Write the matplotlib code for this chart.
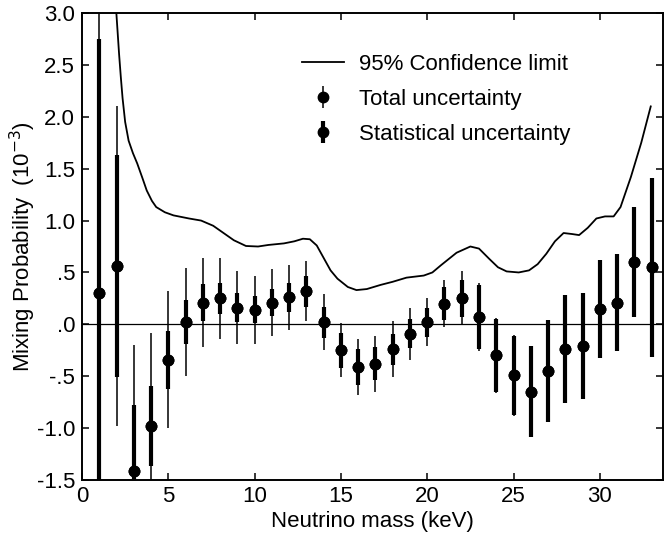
import matplotlib
matplotlib.use('Agg')
import matplotlib.pyplot as plt
from matplotlib.ticker import FixedLocator, FixedFormatter

plt.rcParams['font.family'] = ['Liberation Sans', 'DejaVu Sans']

# neutrino mass bins (keV) and fitted mixing probability (10^-3)
mass = list(range(1, 34))
value = [0.30, 0.56, -1.41, -0.98, -0.34, 0.02, 0.21, 0.25, 0.16, 0.14, 0.21,
         0.26, 0.32, 0.02, -0.25, -0.41, -0.38, -0.24, -0.09, 0.02, 0.20, 0.25,
         0.07, -0.30, -0.49, -0.65, -0.45, -0.24, -0.21, 0.15, 0.21, 0.60, 0.55]
stat_err = [2.45, 1.07, 0.63, 0.39, 0.28, 0.21, 0.18, 0.15, 0.14, 0.13, 0.13,
            0.14, 0.15, 0.15, 0.17, 0.17, 0.16, 0.15, 0.14, 0.14, 0.16, 0.18,
            0.31, 0.35, 0.38, 0.44, 0.49, 0.52, 0.51, 0.47, 0.47, 0.53, 0.86]
total_err = [3.0, 1.54, 1.21, 0.90, 0.66, 0.52, 0.43, 0.39, 0.35, 0.33, 0.32,
             0.31, 0.29, 0.27, 0.26, 0.27, 0.27, 0.27, 0.25, 0.23, 0.23, 0.26,
             0.33, 0.36, 0.39, 0.44, 0.49, 0.52, 0.51, 0.47, 0.47, 0.53, 0.86]

# 95% confidence limit curve
cl_x = [1.95, 2.05, 2.15, 2.25, 2.35, 2.5, 2.7, 2.95, 3.2, 3.5, 3.75, 4.05, 4.3,
        4.8, 5.3, 6.2, 6.9, 7.6, 8.2, 8.8, 9.5, 10.2, 10.8, 11.7, 12.3, 12.8,
        13.2, 13.6, 14.0, 14.4, 14.8, 15.4, 15.9, 16.5, 17.3, 18.0, 18.8, 19.8,
        20.3, 20.8, 21.7, 22.5, 23.0, 23.6, 24.1, 24.6, 25.3, 25.9, 26.4, 26.9,
        27.4, 27.9, 28.4, 28.8, 29.3, 29.8, 30.3, 30.8, 31.2, 31.8, 32.4, 32.95]
cl_y = [3.1, 2.85, 2.6, 2.38, 2.18, 1.95, 1.77, 1.65, 1.55, 1.41, 1.29, 1.19,
        1.13, 1.08, 1.05, 1.02, 1.0, 0.95, 0.88, 0.81, 0.755, 0.75, 0.765, 0.78,
        0.80, 0.825, 0.82, 0.76, 0.64, 0.52, 0.44, 0.36, 0.33, 0.34, 0.38, 0.41,
        0.45, 0.47, 0.50, 0.57, 0.69, 0.75, 0.73, 0.63, 0.55, 0.51, 0.50, 0.52,
        0.58, 0.68, 0.80, 0.88, 0.87, 0.86, 0.93, 1.02, 1.04, 1.04, 1.13, 1.42,
        1.75, 2.1]

yticks = [3.0, 2.5, 2.0, 1.5, 1.0, 0.5, 0.0, -0.5, -1.0, -1.5]
ytick_labels = ['3.0', '2.5', '2.0', '1.5', '1.0', '.5', '.0', '-.5', '-1.0', '-1.5']
xticks = [0, 5, 10, 15, 20, 25, 30]

fig = plt.figure(figsize=(6.64, 5.36), dpi=100)
ax = fig.add_axes([0.1235, 0.1045, 0.8755, 0.8712])

ax.axhline(0, color='k', lw=0.9, zorder=1)
tot = ax.errorbar(mass, value, yerr=total_err, fmt='o', color='k', ms=7.5,
                  elinewidth=1.1, capsize=0, label='Total uncertainty', zorder=2)
st = ax.errorbar(mass, value, yerr=stat_err, fmt='o', color='k', ms=7.5,
                 elinewidth=3.0, capsize=0, label='Statistical uncertainty', zorder=3)
cl, = ax.plot(cl_x, cl_y, color='k', lw=1.3, label='95% Confidence limit', zorder=4)

ax.set_xlim(0, 33.68)
ax.set_ylim(-1.5, 3.0)
ax.xaxis.set_major_locator(FixedLocator(xticks))
ax.yaxis.set_major_locator(FixedLocator(yticks))
ax.yaxis.set_major_formatter(FixedFormatter(ytick_labels))
ax.tick_params(direction='in', length=5, width=1.1, top=True, right=True,
               labelsize=16)
ax.tick_params(axis='x', pad=4)
ax.tick_params(axis='y', pad=5)
for s in ax.spines.values():
    s.set_linewidth(1.4)

ax.set_xlabel('Neutrino mass (keV)', fontsize=16, labelpad=3)
ax.set_ylabel('Mixing Probability  (10$^{-3}$)', fontsize=16, labelpad=-1)

ax.legend([cl, tot, st], ['95% Confidence limit', 'Total uncertainty', 'Statistical uncertainty'],
          loc='upper left', bbox_to_anchor=(302 / 664, 1 - 54 / 536),
          bbox_transform=fig.transFigure, frameon=False, fontsize=16,
          borderpad=0, borderaxespad=0, handlelength=1.9, handletextpad=0.65,
          labelspacing=0.62)

plt.savefig('out.png', dpi=100)
